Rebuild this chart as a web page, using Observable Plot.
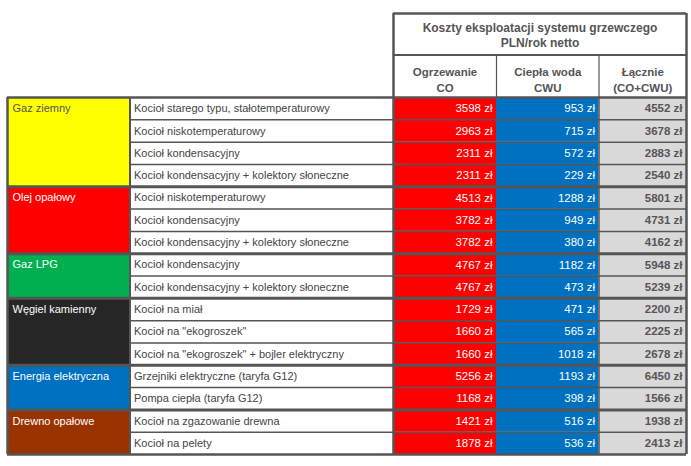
<!DOCTYPE html>
<html><head><meta charset="utf-8">
<script src="https://cdn.jsdelivr.net/npm/d3@7"></script>
<script src="https://cdn.jsdelivr.net/npm/@observablehq/plot@0.6"></script>
<style>body{margin:0;background:#fff}</style>
</head><body><div id="chart"></div>
<script>
// ---- data ----
const groups = ["Gaz ziemny", "Olej opałowy", "Gaz LPG", "Węgiel kamienny", "Energia elektryczna", "Drewno opałowe"];
const groupSizes = [4, 3, 2, 3, 2, 2];
const systems = [
  "Kocioł starego typu, stałotemperaturowy",
  "Kocioł niskotemperaturowy",
  "Kocioł kondensacyjny",
  "Kocioł kondensacyjny + kolektory słoneczne",
  "Kocioł niskotemperaturowy",
  "Kocioł kondensacyjny",
  "Kocioł kondensacyjny + kolektory słoneczne",
  "Kocioł kondensacyjny",
  "Kocioł kondensacyjny + kolektory słoneczne",
  "Kocioł na miał",
  "Kocioł na \"ekogroszek\"",
  "Kocioł na \"ekogroszek\" + bojler elektryczny",
  "Grzejniki elektryczne (taryfa G12)",
  "Pompa ciepła (taryfa G12)",
  "Kocioł na zgazowanie drewna",
  "Kocioł na pelety"
];
const coValues = [3598, 2963, 2311, 2311, 4513, 3782, 3782, 4767, 4767, 1729, 1660, 1660, 5256, 1168, 1421, 1878];
const cwuValues = [953, 715, 572, 229, 1288, 949, 380, 1182, 473, 471, 565, 1018, 1193, 398, 516, 536];
const totalValues = [4552, 3678, 2883, 2540, 5801, 4731, 4162, 5948, 5239, 2200, 2225, 2678, 6450, 1566, 1938, 2413];
const titleLines = ["Koszty eksploatacji systemu grzewczego", "PLN/rok netto"];
const columnHeaders = [["Ogrzewanie", "CO"], ["Ciepła woda", "CWU"], ["Łącznie", "(CO+CWU)"]];
const unit = "zł";

// ---- styles / layout ----
const groupColors = ["#FFFF00", "#FF0000", "#00B050", "#262626", "#0070C0", "#993300"];
const groupTextColors = ["#555555", "#ffffff", "#ffffff", "#ffffff", "#ffffff", "#ffffff"];
const valueFills = ["#FF0000", "#0070C0", "#D9D9D9"];
const valueText = ["#ffffff", "#ffffff", "#555555"];
const colEdgesPx = [7, 129.5, 393, 496, 598.5, 686];
const rowRangePx = [97, 454];
const font = "Liberation Sans, Arial, sans-serif";
const lineColor = "#555555";

// ---- build tables ----
const rows = systems.map((s, i) => ({i, desc: s, vals: [coValues[i], cwuValues[i], totalValues[i]]}));
let start = 0;
const groupRows = groups.map((g, k) => {
  const o = {name: g, start, end: start + groupSizes[k], fill: groupColors[k], text: groupTextColors[k]};
  start += groupSizes[k];
  return o;
});
const valueCells = rows.flatMap(r => r.vals.map((v, c) => ({i: r.i, c, v, label: `${v} ${unit}`})));
const groupStarts = new Set(groupRows.map(g => g.start));
const innerLines = d3.range(1, systems.length).filter(i => !groupStarts.has(i));
const groupLines = groupRows.map(g => g.start).filter(i => i > 0);

const rowH = (rowRangePx[1] - rowRangePx[0]) / systems.length;
const headerTop = (13 - rowRangePx[0]) / rowH;
const headerMid = (54.5 - rowRangePx[0]) / rowH;
const xInv = d3.scaleLinear().domain(d3.range(colEdgesPx.length)).range(colEdgesPx);
const titleX = xInv.invert((colEdgesPx[2] + colEdgesPx[5]) / 2);

const chart = Plot.plot({
  width: 691, height: 466, margin: 0,
  style: {fontFamily: font, fontSize: "11px", background: "#fff"},
  x: {type: "linear", domain: d3.range(colEdgesPx.length), range: colEdgesPx, axis: null},
  y: {type: "linear", domain: [0, systems.length], range: rowRangePx, axis: null},
  marks: [
    // category cells
    Plot.rect(groupRows, {x1: 0, x2: 1, y1: "start", y2: "end", fill: d => d.fill}),
    // value cells
    Plot.rect(valueCells, {x1: d => d.c + 2, x2: d => d.c + 3, y1: "i", y2: d => d.i + 1, fill: d => valueFills[d.c]}),
    // horizontal lines
    Plot.ruleY(innerLines, {x1: 1, x2: 5, stroke: lineColor, strokeWidth: 1.5}),
    Plot.ruleY(groupLines, {x1: 0, x2: 5, stroke: lineColor, strokeWidth: 3}),
    Plot.ruleY([0, systems.length], {x1: 0, x2: 5, stroke: lineColor, strokeWidth: 2.5}),
    // vertical lines body
    Plot.ruleX([0, 2, 5], {y1: 0, y2: systems.length, stroke: lineColor, strokeWidth: 2.5}),
    Plot.ruleX([1], {y1: 0, y2: systems.length, stroke: lineColor, strokeWidth: 2}),
    Plot.ruleX([4], {y1: 0, y2: systems.length, stroke: lineColor, strokeWidth: 1.5}),
    // header box
    Plot.ruleX([2, 5], {y1: headerTop, y2: 0, stroke: lineColor, strokeWidth: 2.5}),
    Plot.ruleX([3, 4], {y1: headerMid, y2: 0, stroke: lineColor, strokeWidth: 1.2}),
    Plot.ruleY([headerTop], {x1: 2, x2: 5, stroke: lineColor, strokeWidth: 2.5}),
    Plot.ruleY([headerMid], {x1: 2, x2: 5, stroke: lineColor, strokeWidth: 2}),
    // header texts
    Plot.text([titleLines.join("\n")], {x: titleX, y: (headerTop + headerMid) / 2, text: d => d, fontWeight: "bold", fontSize: 12, fill: "#555", lineHeight: 1.25}),
    Plot.text(columnHeaders, {x: (d, k) => k + 2.5, y: headerMid / 2 + 0.12, text: d => d.join("\n"), fontWeight: "bold", fontSize: 11.5, fill: "#555", lineHeight: 1.4}),
    // category labels
    Plot.text(groupRows, {x: 0, y: d => d.start + 0.5, dx: 5, text: "name", textAnchor: "start", fill: d => d.text, fontSize: 11}),
    // descriptions
    Plot.text(rows, {x: 1, y: d => d.i + 0.5, dx: 4, text: "desc", textAnchor: "start", fill: "#444", fontSize: 11}),
    // values (CO, CWU)
    Plot.text(valueCells.filter(d => d.c < 2), {x: d => d.c + 3, y: d => d.i + 0.5, dx: -4, text: "label", textAnchor: "end", fill: d => valueText[d.c], fontSize: 11.5}),
    // totals (bold)
    Plot.text(valueCells.filter(d => d.c === 2), {x: d => d.c + 3, y: d => d.i + 0.5, dx: -4, text: "label", textAnchor: "end", fill: d => valueText[d.c], fontWeight: "bold", fontSize: 11.5})
  ]
});
document.getElementById("chart").append(chart);
</script>
</body></html>
